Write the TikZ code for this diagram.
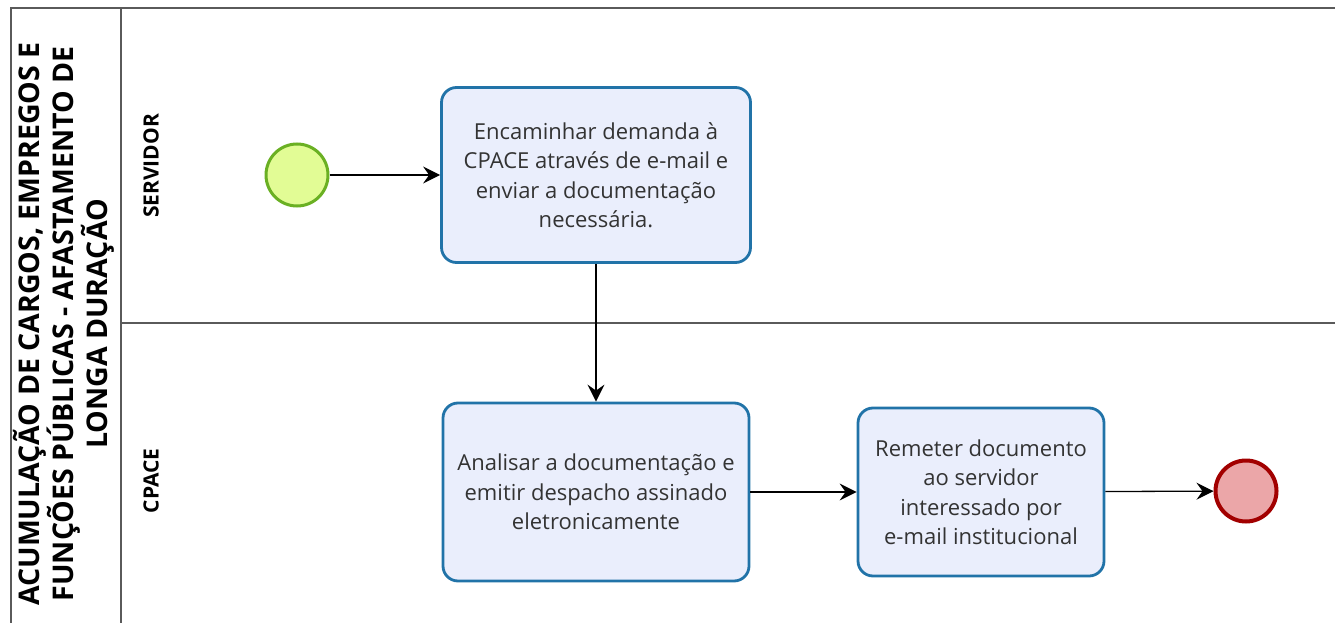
\documentclass[tikz,border=0pt]{standalone}
\usepackage{fontspec}
\setmainfont{Open Sans}
\usetikzlibrary{arrows.meta}
\definecolor{taskblue}{HTML}{2173A8}
\definecolor{taskfill}{HTML}{EAEEFC}
\definecolor{startgreen}{HTML}{6AB023}
\definecolor{startfill}{HTML}{E2FC95}
\definecolor{endred}{HTML}{A20000}
\definecolor{endfill}{HTML}{EBA6A8}
\definecolor{framegray}{HTML}{5A5A5A}
\definecolor{txtgray}{HTML}{333333}
\tikzset{
  task/.style={draw=taskblue, line width=2.8pt, fill=taskfill, rounded corners=15pt,
    align=center, text=txtgray, font=\fontsize{22}{29.5}\selectfont, inner sep=0pt},
  startev/.style={circle, draw=startgreen, fill=startfill, line width=3pt, minimum size=62pt, inner sep=0pt},
  endev/.style={circle, draw=endred, fill=endfill, line width=4pt, minimum size=61pt, inner sep=0pt},
  flow/.style={line width=1.3pt, -{Stealth[length=17pt, width=17pt, inset=6pt]}},
  frame/.style={draw=framegray, line width=1.6pt},
  lanelabel/.style={rotate=90, font=\bfseries\fontsize{21}{24}\selectfont},
}
\begin{document}
\begin{tikzpicture}[x=1pt, y=-1pt]
\useasboundingbox (0,0) rectangle (1335,623);
% frame
\draw[frame] (11,623) -- (11,8) -- (1335,8);
\draw[frame] (121,8) -- (121,623);
\draw[frame] (121,323) -- (1335,323);
% pool title
\node[rotate=90, align=center, font=\bfseries\fontsize{28.5}{31.5}\selectfont] (pool) at (64,324)
  {ACUMULAÇÃO DE CARGOS, EMPREGOS E\\FUNÇÕES PÚBLICAS - AFASTAMENTO DE\\LONGA DURAÇÃO};
\node[lanelabel] (lane1) at (151,166) {SERVIDOR};
\node[lanelabel] (lane2) at (151,481) {CPACE};
% nodes
\node[startev] (start) at (297,175) {};
\node[task, minimum width=309pt, minimum height=175pt] (t1) at (596,175)
  {Encaminhar demanda à\\CPACE através de e-mail e\\enviar a documentação\\necessária.};
\node[task, minimum width=306pt, minimum height=178pt] (t2) at (596,492)
  {Analisar a documentação e\\emitir despacho assinado\\eletronicamente};
\node[task, minimum width=246pt, minimum height=168pt] (t3) at (981,492)
  {Remeter documento\\ao servidor\\interessado por\\e-mail institucional};
\node[endev] (end) at (1246,491) {};
% flows
\draw[flow] (start) -- (t1);
\draw[flow] (t1.south) -- (t2.north);
\draw[flow] (t2) -- (t3);
\draw[flow] (t3) -- (end);
\end{tikzpicture}
\end{document}
